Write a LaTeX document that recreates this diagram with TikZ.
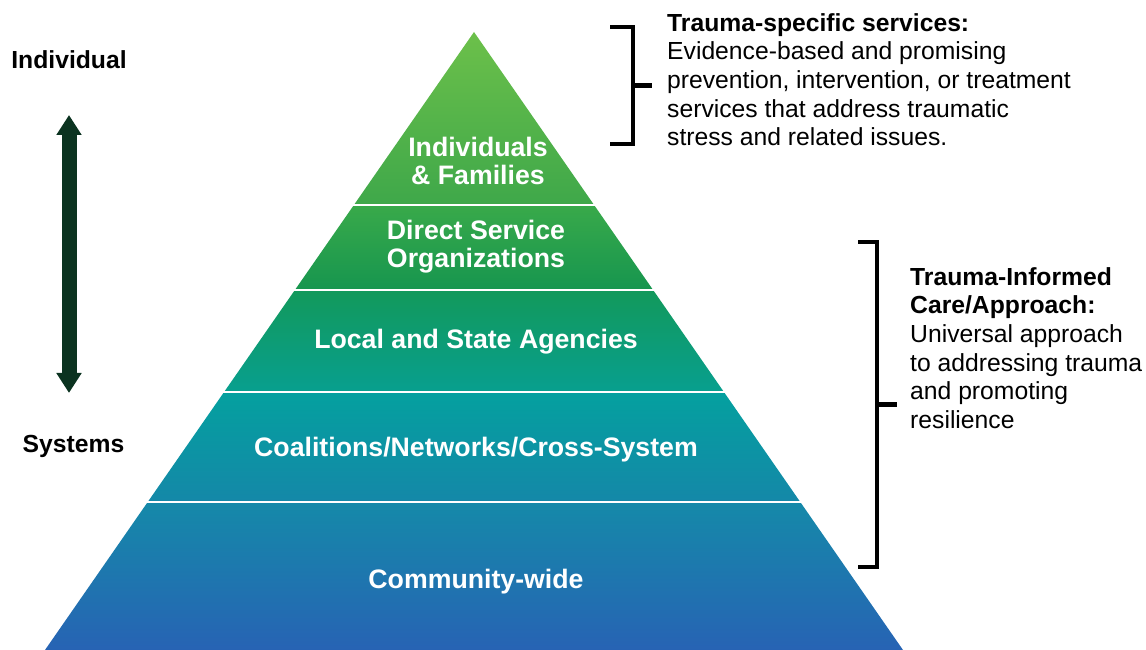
\documentclass[tikz,border=0pt]{standalone}
\usepackage{fontspec}
\setmainfont{Liberation Sans}
\usetikzlibrary{arrows.meta}

\definecolor{arrowgreen}{HTML}{0B3320}
\definecolor{lA}{HTML}{6CC04A}\definecolor{lB}{HTML}{3FA84A}
\definecolor{lC}{HTML}{38A94A}\definecolor{lD}{HTML}{17964F}
\definecolor{lE}{HTML}{12995C}\definecolor{lF}{HTML}{089F8E}
\definecolor{lG}{HTML}{04A09F}\definecolor{lH}{HTML}{1488A8}
\definecolor{lI}{HTML}{1589A9}\definecolor{lJ}{HTML}{2763B4}

\tikzset{
  side/.style={font=\fontsize{24.7}{28.7}\selectfont, inner sep=0pt},
  sidehead/.style={font=\fontsize{24.7}{28.7}\selectfont\bfseries, inner sep=0pt},
  tier/.style={font=\fontsize{26.7}{28}\selectfont\bfseries, text=white, align=center, inner sep=0pt},
  bracket/.style={line width=4.5pt, line join=miter, line cap=butt},
}

% one tier of the pyramid: top y, bottom y, top colour, bottom colour
\newcommand{\pyrtier}[4]{%
  \begin{scope}
    \clip (474,618) -- (903,0) -- (45,0) -- cycle;
    \shade[top color=#3, bottom color=#4] (0,#1) rectangle (1146,#2);
  \end{scope}}

\begin{document}
\begin{tikzpicture}[x=1pt, y=1pt]
  \useasboundingbox (0,0) rectangle (1146,650);

  % pyramid tiers, separated by thin white gaps
  \pyrtier{618}{446.5}{lA}{lB}
  \pyrtier{443.5}{361.5}{lC}{lD}
  \pyrtier{358.5}{259.5}{lE}{lF}
  \pyrtier{256.5}{149.5}{lG}{lH}
  \pyrtier{146.5}{0}{lI}{lJ}

  % tier labels
  \node[tier] (t1) at (478,489) {Individuals\\\& Families};
  \node[tier] (t2) at (476,403) {Direct Service\\Organizations};
  \node[tier] (t3) at (476,308) {Local and State Agencies};
  \node[tier] (t4) at (476,200) {Coalitions/Networks/Cross-System};
  \node[tier] (t5) at (476,68) {Community-wide};

  % scale on the left
  \node[sidehead] (ind) at (69,590) {Individual};
  \node[sidehead] (sys) at (73.5,204) {Systems};
  \coordinate (arrtop) at (69,535);
  \coordinate (arrbot) at (69,257);
  \draw[arrowgreen, line width=15pt,
        {Triangle[width=24pt,length=20pt]}-{Triangle[width=24pt,length=20pt]}]
        (arrtop) -- (arrbot);

  % bracket for trauma-specific services
  \draw[bracket] (610,623) -- (633,623) -- (633,506) -- (610,506);
  \coordinate (b1m) at (633,564.5);
  \coordinate (b1t) at (652,564.5);
  \draw[bracket] (b1m) -- (b1t);
  \node[side, anchor=north west, align=left] (spec) at (667,637)
    {\textbf{Trauma-specific services:}\\
     Evidence-based and promising\\
     prevention, intervention, or treatment\\
     services that address traumatic\\
     stress and related issues.};

  % bracket for trauma-informed care
  \draw[bracket] (858,408) -- (877,408) -- (877,83) -- (858,83);
  \coordinate (b2m) at (877,245.5);
  \coordinate (b2t) at (897,245.5);
  \draw[bracket] (b2m) -- (b2t);
  \node[side, anchor=north west, align=left] (tic) at (910,383)
    {\textbf{Trauma-Informed}\\
     \textbf{Care/Approach:}\\
     Universal approach\\
     to addressing trauma\\
     and promoting\\
     resilience};
\end{tikzpicture}
\end{document}
